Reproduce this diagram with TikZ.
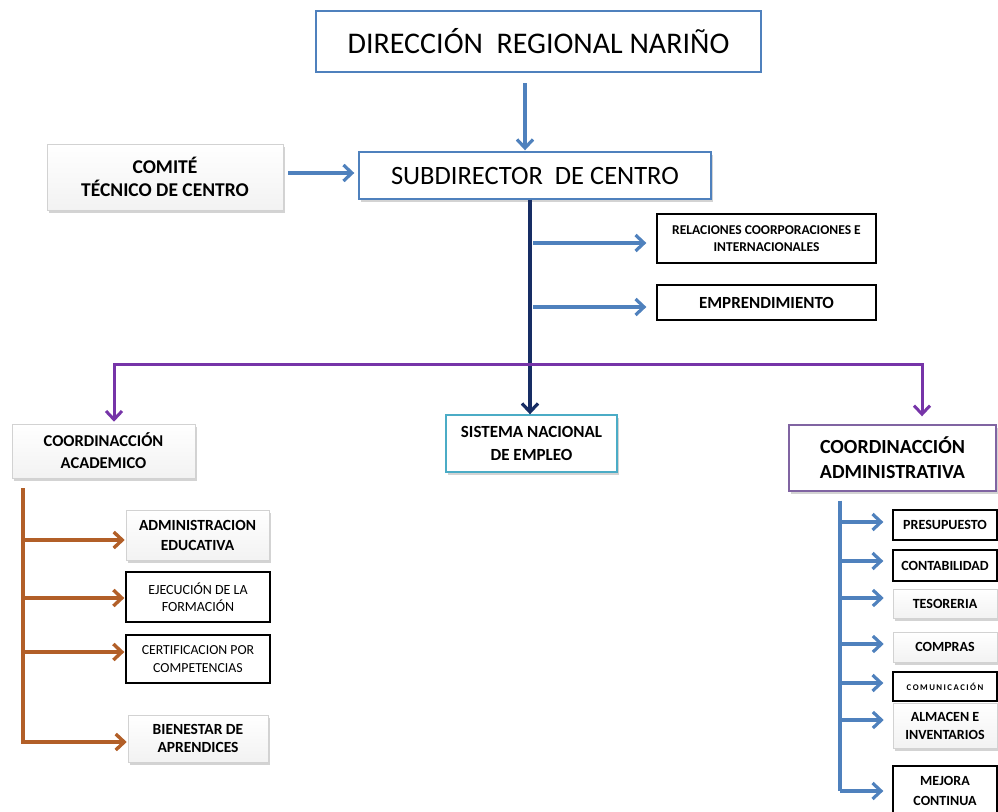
\documentclass[tikz,border=0pt]{standalone}
\usepackage{fontspec}
\setmainfont{Carlito}
\usetikzlibrary{arrows.meta,shadows,calc}
\definecolor{cblue}{RGB}{79,129,189}
\definecolor{cnavy}{RGB}{23,45,100}
\definecolor{cpurple}{RGB}{118,52,168}
\definecolor{cbrown}{RGB}{178,95,40}
\definecolor{ccyan}{RGB}{75,172,198}
\definecolor{cpurpbox}{RGB}{128,100,162}
\tikzset{
  tip/.style={-{Straight Barb[length=8.5pt,width=16pt]}},
  base/.style={rectangle, inner sep=0pt, align=center, text=black},
  plainbox/.style={base, draw=black, line width=1.3pt, fill=white},
  shbox/.style={base, draw=gray!35, line width=0.6pt, top color=white, bottom color=gray!10,
     drop shadow={shadow xshift=2pt, shadow yshift=-3pt, opacity=0.35}},
  bluearr/.style={tip, draw=cblue, line width=3.2pt},
  navyline/.style={draw=cnavy, line width=3.2pt},
  purpline/.style={draw=cpurple, line width=3pt},
  brownline/.style={draw=cbrown, line width=3.4pt},
  bfont/.style={font=\bfseries\fontsize{#1}{#1}\selectfont},
  rfont/.style={font=\fontsize{#1}{#1}\selectfont},
}
\begin{document}
\begin{tikzpicture}[x=1pt,y=-1pt]
\useasboundingbox (0,0) rectangle (998,811);
% top boxes
\node[base, draw=cblue, line width=2.4pt, fill=white, minimum width=445pt, minimum height=61pt,
  rfont=30] (dir) at (538.5,41.5) {DIRECCIÓN\ \ REGIONAL NARIÑO};
\node[base, draw=cblue, line width=1.4pt, fill=white, minimum width=352pt, minimum height=47pt,
  drop shadow={shadow xshift=2pt, shadow yshift=-3pt, opacity=0.35},
  rfont=26.5] (sub) at (535,175.5) {SUBDIRECTOR\ \ DE CENTRO};
\node[shbox, minimum width=236pt, minimum height=66pt, bfont=19.5] (com) at (165,177)
  {COMITÉ\\[3.5pt]TÉCNICO DE CENTRO};
\node[plainbox, minimum width=219pt, minimum height=49pt, bfont=13.5] (rel) at (766.5,238.5)
  {RELACIONES COORPORACIONES E\\[3.5pt]INTERNACIONALES};
\node[plainbox, minimum width=219pt, minimum height=35pt, bfont=17] (emp) at (766.5,302.5)
  {EMPRENDIMIENTO};
% middle row
\node[shbox, minimum width=183pt, minimum height=54pt, bfont=16.5] (acad) at (103.5,451)
  {COORDINACCIÓN\\[5.5pt]ACADEMICO};
\node[base, draw=ccyan, line width=1.4pt, fill=white, minimum width=171pt, minimum height=57pt,
  drop shadow={shadow xshift=2pt, shadow yshift=-3pt, opacity=0.35}, bfont=17] (sis) at (531.5,443.5)
  {SISTEMA NACIONAL\\[6pt]DE EMPLEO};
\node[base, draw=cpurpbox, line width=1.4pt, fill=white, minimum width=207pt, minimum height=66pt,
  drop shadow={shadow xshift=2pt, shadow yshift=-3pt, opacity=0.35}, bfont=20] (adm) at (892.5,458)
  {COORDINACCIÓN\\[5pt]ADMINISTRATIVA};
% left column
\node[shbox, minimum width=143pt, minimum height=50pt, bfont=15.5] (ae) at (197.5,535)
  {ADMINISTRACION\\[4.5pt]EDUCATIVA};
\node[plainbox, minimum width=144pt, minimum height=50pt, rfont=14] (eje) at (198,597)
  {EJECUCIÓN DE LA\\[3pt]FORMACIÓN};
\node[plainbox, minimum width=144pt, minimum height=48pt, rfont=13.8] (cer) at (198,659)
  {CERTIFICACION POR\\[4pt]COMPETENCIAS};
\node[shbox, minimum width=140pt, minimum height=47pt, bfont=15.5] (bie) at (198,738.5)
  {BIENESTAR DE\\[2.5pt]APRENDICES};
% right column
\node[plainbox, minimum width=104pt, minimum height=30pt, bfont=14] (pre) at (945,525) {PRESUPUESTO};
\node[plainbox, minimum width=104pt, minimum height=31pt, bfont=14] (con) at (945,565.5) {CONTABILIDAD};
\node[shbox, minimum width=104pt, minimum height=29pt, bfont=14] (tes) at (945,603.5) {TESORERIA};
\node[shbox, minimum width=104pt, minimum height=30pt, bfont=14] (cmp) at (945,647) {COMPRAS};
\node[plainbox, minimum width=104pt, minimum height=29pt, bfont=8.75] (cmu) at (945,686.5) {C\,O\,M\,U\,N\,I\,C\,A\,C\,I\,Ó\,N};
\node[shbox, minimum width=104pt, minimum height=45pt, bfont=14] (alm) at (945,725.5) {ALMACEN E\\[4pt]INVENTARIOS};
\node[plainbox, minimum width=104pt, minimum height=50pt, bfont=14] (mej) at (945,791) {MEJORA\\[6pt]CONTINUA};
% connectors top
\draw[bluearr, shorten <=10pt, shorten >=1pt] ([xshift=-13.5pt]dir.south) -- ([xshift=-10pt]sub.north);
\draw[bluearr, shorten <=5pt, shorten >=4pt] ([yshift=4pt]com.east) -- ([yshift=2.5pt]sub.west);
% navy trunk
\coordinate (nt) at ([xshift=-5pt]sub.south);
\draw[navyline, tip] (nt) -- (nt |- sis.north);
\draw[bluearr, shorten >=10pt] ([xshift=3pt,yshift=-4.5pt]nt |- rel.west) -- ([yshift=-4.5pt]rel.west);
\draw[bluearr, shorten >=10pt] ([xshift=3pt,yshift=-4.5pt]nt |- emp.west) -- ([yshift=-4.5pt]emp.west);
% purple
\coordinate (pj) at ([yshift=-165pt]nt);
\draw[purpline, tip, shorten >=2pt] (pj) -| ([xshift=10.5pt]acad.north);
\draw[purpline, tip, shorten >=8pt] (pj) -| ([xshift=29.5pt]adm.north);
% brown
\coordinate (bt) at ([xshift=-80.5pt,yshift=-10pt]acad.south);
\draw[brownline, tip, shorten >=1pt] (bt) |- ([yshift=-3.5pt]bie.west);
\draw[brownline, tip, shorten >=1pt] ([yshift=-5pt]ae.west -| bt) -- ([yshift=-5pt]ae.west);
\draw[brownline, tip, shorten >=1pt] ([yshift=-1pt]eje.west -| bt) -- ([yshift=-1pt]eje.west);
\draw[brownline, tip, shorten >=1pt] ([yshift=7pt]cer.west -| bt) -- ([yshift=7pt]cer.west);
% right blue
\coordinate (rt) at ([xshift=-52.5pt,yshift=-9pt]adm.south);
\draw[draw=cblue, line width=3.2pt] (rt) -- (rt |- mej.west);
\draw[bluearr, shorten >=9pt] ([yshift=3pt]pre.west -| rt) -- ([yshift=3pt]pre.west);
\draw[bluearr, shorten >=9pt] ([yshift=4.5pt]con.west -| rt) -- ([yshift=4.5pt]con.west);
\draw[bluearr, shorten >=9pt] ([yshift=5.5pt]tes.west -| rt) -- ([yshift=5.5pt]tes.west);
\draw[bluearr, shorten >=9pt] ([yshift=3pt]cmp.west -| rt) -- ([yshift=3pt]cmp.west);
\draw[bluearr, shorten >=9pt] ([yshift=3.5pt]cmu.west -| rt) -- ([yshift=3.5pt]cmu.west);
\draw[bluearr, shorten >=9pt] ([yshift=5.5pt]alm.west -| rt) -- ([yshift=5.5pt]alm.west);
\draw[bluearr, shorten >=9pt] (mej.west -| rt) -- (mej.west);
\end{tikzpicture}
\end{document}
